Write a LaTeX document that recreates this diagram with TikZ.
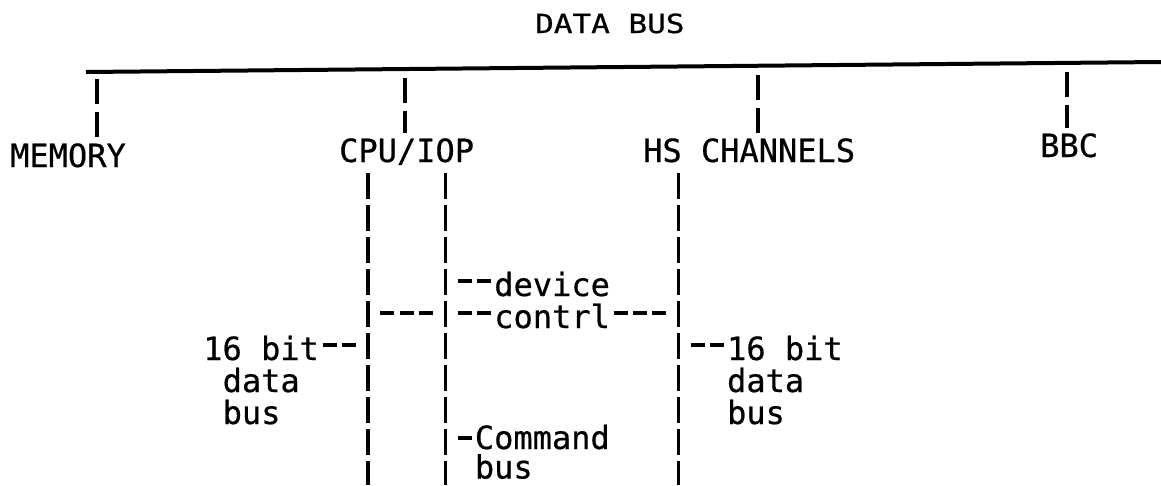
\documentclass[tikz,border=0pt]{standalone}
\usepackage{fontspec}
\usepackage{graphicx}
\newfontfamily\tw[FakeBold=0.6]{DejaVu Sans Mono}
\begin{document}
\begin{tikzpicture}[x=1pt,y=-1pt,
  toplab/.style={font=\tw\fontsize{32}{32}\selectfont, inner sep=0pt, anchor=base west, text height=22pt, text depth=0pt},
  lowlab/.style={font=\tw\fontsize{32}{32}\selectfont, inner sep=0pt, anchor=base west, text depth=0pt},
  busline/.style={line width=4pt},
  tbar/.style={line width=3.6pt, dash pattern=on 25pt off 8pt, shorten >=7pt},
  vbar/.style={line width=3.6pt, dash pattern=on 25.5pt off 6.5pt, shorten <=11pt},
  hyph/.style={line width=3.6pt, dash pattern=on 14pt off 5.4pt}]
\fill[white] (0,0) rectangle (1161,485);
\useasboundingbox (0,0) rectangle (1161,485);

% bus line and taps
\coordinate (busL) at (86,72);
\coordinate (busR) at (1161,62);
\draw[busline] (busL) -- (busR);
\coordinate (memTop) at (97,79);
\coordinate (cpuTop) at (405,78);
\coordinate (chTop) at (758,75);
\coordinate (bbcTop) at (1067,72);

% top labels
\node[toplab, font=\tw\fontsize{31}{31}\selectfont] (databus) at (535,33) {\scalebox{1}[0.85]{DATA BUS}};
\node[toplab] (memory) at (10,167) {MEMORY};
\node[toplab] (cpuiop) at (339,162) {CPU/IOP};
\node[toplab] (hsch) at (643,162) {HS CHANNELS};
\node[toplab] (bbc) at (1040,157) {BBC};

\draw[tbar] (memTop) -- (memTop |- memory.north);
\draw[tbar] (cpuTop) -- (cpuTop |- cpuiop.north);
\draw[tbar] (chTop) -- (chTop |- hsch.north);
\draw[tbar] (bbcTop) -- (bbcTop |- bbc.north);

% lower vertical lines
\coordinate (cpuB) at (368,485);
\coordinate (iopB) at (445.6,485);
\coordinate (hsB) at (678.4,485);
\draw[vbar] (cpuB |- cpuiop.south) -- (cpuB);
\draw[vbar] (iopB |- cpuiop.south) -- (iopB);
\draw[vbar] (hsB |- hsch.south) -- (hsB);

% lower labels
\node[lowlab] (dev) at (494.1,296) {device};
\node[lowlab] (contrl) at (494.1,328) {contrl};
\node[lowlab] (lbit) at (203.1,360) {16 bit};
\node[lowlab] (ldata) at (222.5,392) {data};
\node[lowlab] (lbus) at (222.5,424) {bus};
\node[lowlab] (rbit) at (726.9,360) {16 bit};
\node[lowlab] (rdata) at (726.9,392) {data};
\node[lowlab] (rbus) at (726.9,424) {bus};
\node[lowlab] (cmd) at (474.7,449) {Command};
\node[lowlab] (cbus) at (474.7,478.5) {bus};

% row heights of the hyphen connectors
\coordinate (r3) at (0,281);
\coordinate (r4) at (0,313);
\coordinate (r5) at (0,345);
\coordinate (r8) at (0,438);

% hyphen connectors
\draw[hyph, shorten <=12.4pt, shorten >=12.4pt] (cpuB |- r4) -- (iopB |- r4);
\draw[hyph, shorten <=12.4pt, shorten >=2.7pt] (iopB |- r4) -- (contrl.west |- r4);
\draw[hyph, shorten <=3.5pt, shorten >=12.4pt] (contrl.east |- r4) -- (hsB |- r4);
\draw[hyph, shorten <=12.4pt, shorten >=2.7pt] (iopB |- r3) -- (dev.west |- r3);
\draw[hyph, shorten <=3.5pt, shorten >=12.4pt] (lbit.east |- r5) -- (cpuB |- r5);
\draw[hyph, shorten <=12.4pt, shorten >=2.7pt] (hsB |- r5) -- (rbit.west |- r5);
\draw[hyph, shorten <=12.4pt, shorten >=2.7pt] (iopB |- r8) -- (cmd.west |- r8);
\end{tikzpicture}
\end{document}
